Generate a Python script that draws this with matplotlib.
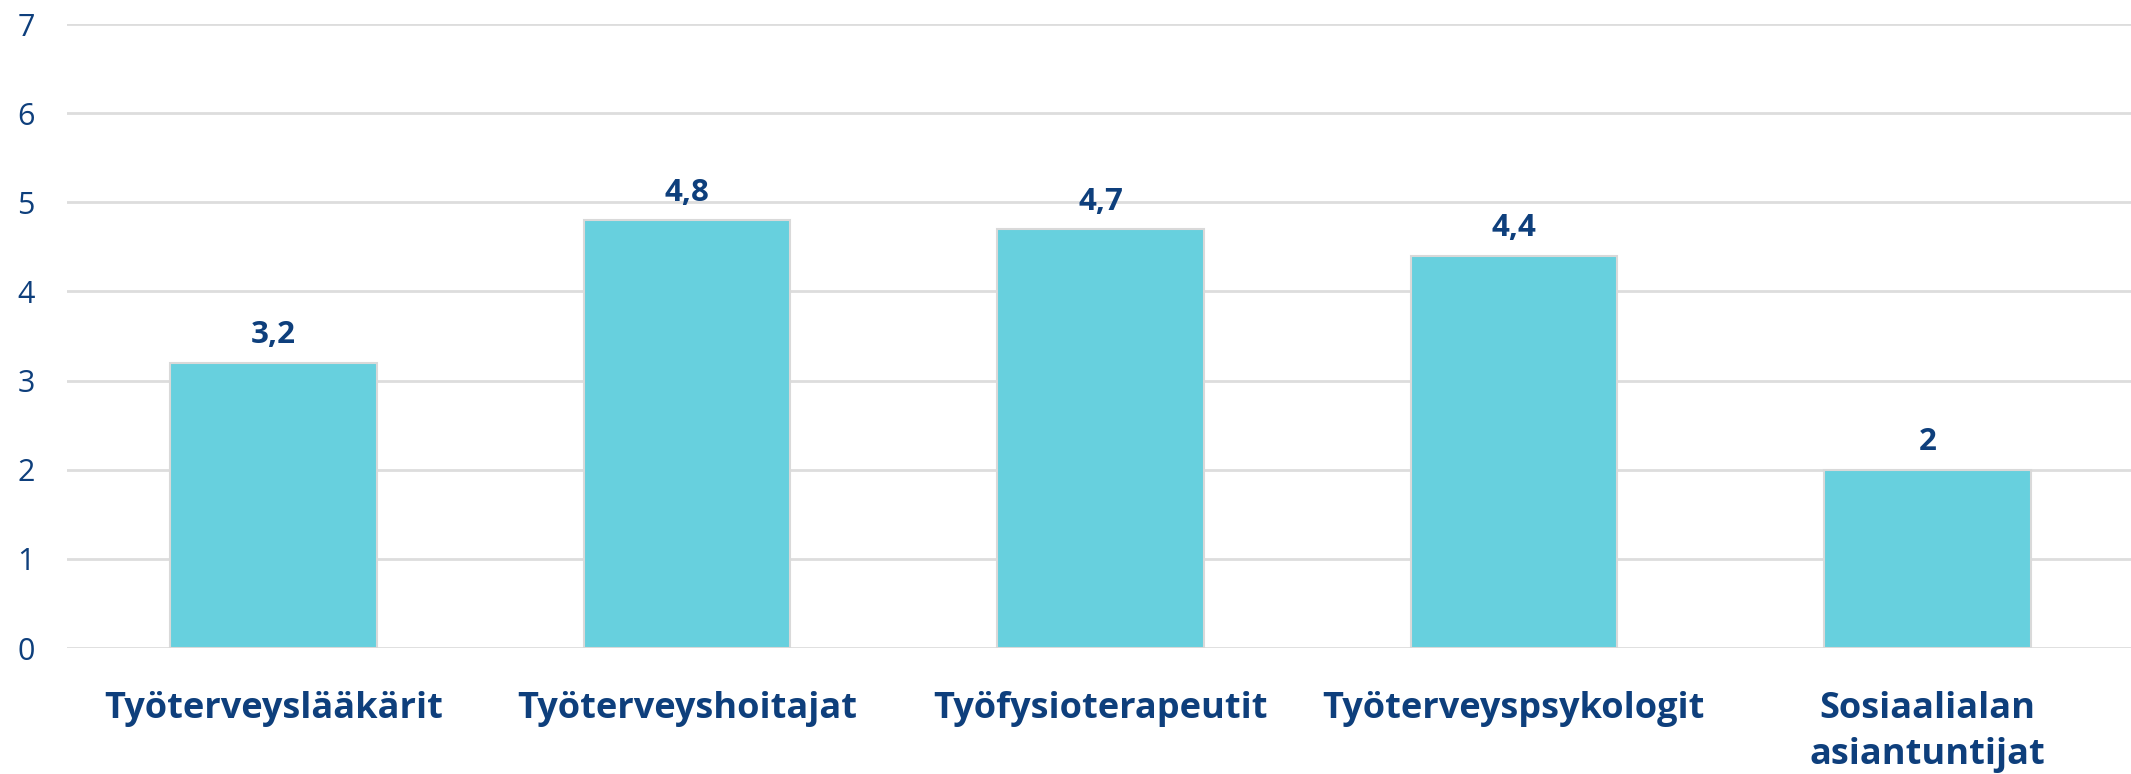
import matplotlib
matplotlib.use("Agg")
import matplotlib.pyplot as plt

categories = ["Työterveyslääkärit", "Työterveyshoitajat", "Työfysioterapeutit",
              "Työterveyspsykologit", "Sosiaalialan\nasiantuntijat"]
values = [3.2, 4.8, 4.7, 4.4, 2.0]
value_labels = ["3,2", "4,8", "4,7", "4,4", "2"]
yticks = [0, 1, 2, 3, 4, 5, 6, 7]

BAR = "#67D0DE"
EDGE = "#D9D9D9"
NAVY = "#0E3F7C"
GRID = "#DDDDDD"

plt.rcParams['font.family'] = ['Open Sans', 'DejaVu Sans']

fig = plt.figure(figsize=(21.31, 7.74), dpi=100)
ax = fig.add_axes([67/2131, 1 - 648/774, (2134 - 67)/2131, (648 - 24)/774])

x = list(range(len(categories)))
bars = ax.bar(x, values, width=0.5, color=BAR, edgecolor=EDGE, linewidth=1.5, zorder=3)

for xi, v, lab in zip(x, values, value_labels):
    ax.annotate(lab, (xi, v), xytext=(0, 9), textcoords="offset points",
                ha="center", va="bottom", fontsize=22.5, fontweight="bold", color=NAVY)

ax.set_xlim(-0.5, 4.5)
ax.set_ylim(0, 7)
ax.set_yticks(yticks)
ax.set_yticklabels([str(t) for t in yticks])
ax.yaxis.grid(True, color=GRID, linewidth=2, zorder=0)
ax.set_axisbelow(True)
for s in ax.spines.values():
    s.set_visible(False)
ax.tick_params(axis="y", length=0, pad=23, labelsize=22, labelcolor=NAVY)
ax.tick_params(axis="x", length=0, pad=31)
ax.set_xticks(x)
ax.set_xticklabels(categories, fontsize=26, fontweight="bold", color=NAVY, linespacing=1.38)

fig.savefig("out.png", dpi=100)
